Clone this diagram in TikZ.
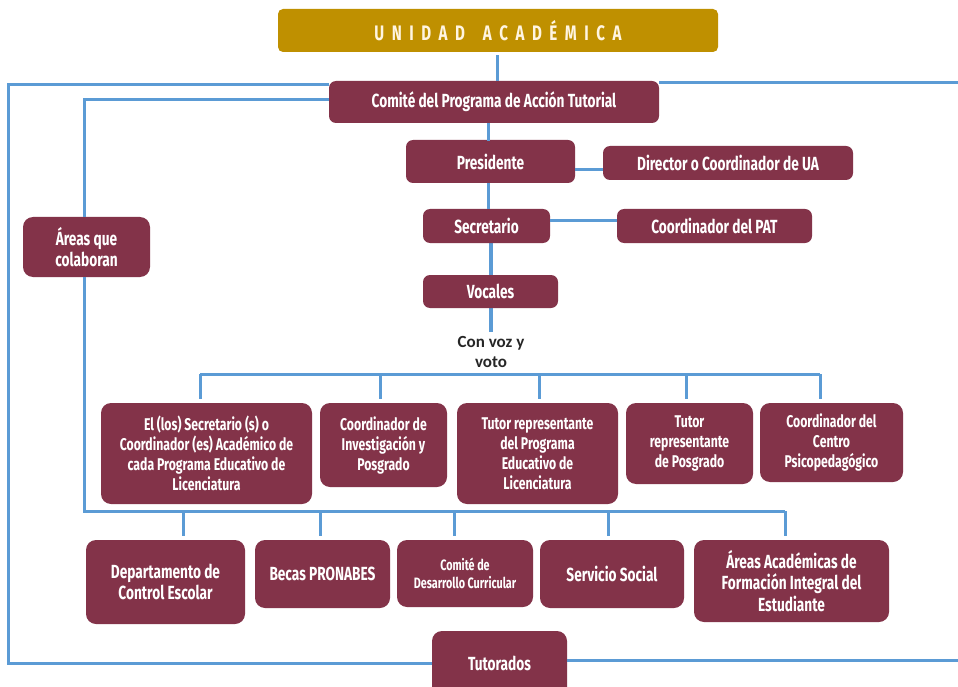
\documentclass[tikz,border=0pt]{standalone}
\usepackage{fontspec}
\setmainfont{Fira Sans}[FakeStretch=0.72]
\newfontfamily\calfont{Carlito}
\usetikzlibrary{calc,backgrounds}
\definecolor{maroon}{HTML}{833349}
\definecolor{lineblue}{HTML}{5B9BD5}
\definecolor{gold}{HTML}{BF9000}
\definecolor{cream}{HTML}{FFF5E1}
\definecolor{darktext}{HTML}{262626}
\begin{document}
\begin{tikzpicture}[x=1pt,y=-1pt,
  box/.style={fill=maroon, rounded corners=7pt, text=white, align=center, inner sep=0pt,
    font=\bfseries\fontsize{19}{21.5}\selectfont},
  midbox/.style={box, rounded corners=10pt, font=\bfseries\fontsize{17}{20}\selectfont},
  link/.style={draw=lineblue, line width=3pt},
  gap/.style={link, shorten >=4pt},
]
\useasboundingbox (0,0) rectangle (958,687);
\begin{scope}
\clip (0,0) rectangle (958,687);
% title
\node[fill=gold, rounded corners=5pt, minimum width=440pt, minimum height=43pt, inner sep=0pt,
  text=cream, font=\bfseries\fontsize{21}{24}\selectfont]
  (title) at (498,30.5) {\addfontfeature{LetterSpace=36}UNIDAD\hspace*{18pt}ACADÉMICA};
% upper chain
\node[box, minimum width=330pt, minimum height=42pt] (comite) at (494,102) {Comité del Programa de Acción Tutorial};
\node[box, minimum width=169pt, minimum height=43pt] (pres) at (490.5,161.5) {Presidente};
\node[box, minimum width=250pt, minimum height=34pt] (dir) at (728,163) {Director o Coordinador de UA};
\node[box, minimum width=127pt, minimum height=34pt] (sec) at (486.5,226) {Secretario};
\node[box, minimum width=195pt, minimum height=34pt] (pat) at (714.5,226) {Coordinador del PAT};
\node[box, minimum width=135pt, minimum height=33pt] (voc) at (490.5,291.5) {Vocales};
\node[box, rounded corners=10pt, minimum width=127pt, minimum height=60pt] (areas) at (86.5,247) {Áreas que\\colaboran};
\node[align=center, inner sep=0pt, text=darktext, font=\calfont\bfseries\fontsize{17}{20.5}\selectfont] (voz) at (491,352) {Con voz y\\voto};
% middle row
\node[midbox, minimum width=211pt, minimum height=101pt] (b1) at (206.5,453.5) {El (los) Secretario (s) o\\Coordinador (es) Académico de\\cada Programa Educativo de\\Licenciatura};
\node[midbox, minimum width=127pt, minimum height=84pt] (b2) at (383.5,445) {Coordinador de\\Investigación y\\Posgrado};
\node[midbox, minimum width=161pt, minimum height=101pt] (b3) at (537.5,453.5) {Tutor representante\\del Programa\\Educativo de\\Licenciatura};
\node[midbox, minimum width=127pt, minimum height=81pt] (b4) at (689.5,443.5) {Tutor\\representante\\de Posgrado};
\node[midbox, minimum width=143pt, minimum height=79pt] (b5) at (831.5,442.5) {Coordinador del\\Centro\\Psicopedagógico};
% bottom row
\node[box, rounded corners=10pt, minimum width=159pt, minimum height=84pt] (c1) at (165.5,582) {Departamento de\\Control Escolar};
\node[box, rounded corners=10pt, minimum width=135pt, minimum height=68pt] (c2) at (322.5,574) {Becas PRONABES};
\node[box, rounded corners=10pt, minimum width=136pt, minimum height=67pt, font=\bfseries\fontsize{15}{18}\selectfont] (c3) at (465,573.5) {Comité de\\Desarrollo Curricular};
\node[box, rounded corners=10pt, minimum width=144pt, minimum height=68pt] (c4) at (612,574) {Servicio Social};
\node[box, rounded corners=10pt, minimum width=195pt, minimum height=82pt] (c5) at (791.5,581) {Áreas Académicas de\\Formación Integral del\\Estudiante};
\node[box, rounded corners=10pt, minimum width=135pt, minimum height=66pt, text depth=0pt] (tut) at (499.5,664) {\raisebox{2pt}{Tutorados}};
% connectors: upper chain
\draw[link] ([yshift=-3pt]title.south -| comite.north) ++(3pt,0) -- ++(0,-26pt);
\draw[link] (comite.south -| pres.north) ++(-2.5pt,0) -- ++(0,-18pt);
\draw[link] (pres.south -| sec.north) ++(1.5pt,0) -- ++(0,-26pt);
\draw[link] ([yshift=-8pt]pres.east) -- ([yshift=-8pt]pres.east -| dir.west);
\draw[link] ([yshift=6pt]sec.east) -- ([yshift=6pt]sec.east -| pat.west);
\begin{pgfonlayer}{background}
\draw[link, line width=3.2pt] (sec.south -| voc.north) ++(0.5pt,0) -- ++(0,-89pt);
\end{pgfonlayer}
% outer frame and right lines
\coordinate (oc1) at (8,85);
\coordinate (oc2) at (8,663);
\draw[link] (comite.west |- oc1) -- (oc1) -- (oc2) -- (oc2 -| tut.west);
\coordinate (r1) at (958,83);
\draw[link] (comite.east |- r1) -- (r1);
\coordinate (r2) at (958,660);
\draw[link] (tut.east |- r2) -- (r2);
% areas que colaboran
\coordinate (ic) at (84,100);
\draw[link] (comite.west |- ic) -- (ic) -- (ic |- areas.north);
% top bus
\coordinate (tb1) at (200,374);
\coordinate (tb5) at (820,374);
\draw[gap] (tb1) -- (tb1 |- b1.north);
\draw[link] (tb1) -- (tb5);
\draw[gap] (tb5) -- (tb5 |- b5.north);
\draw[gap] (tb1 -| b2.north) ++(-3pt,0) -- ++(0,-29pt);
\draw[gap] (tb1 -| b3.north) ++(1.5pt,0) -- ++(0,-29pt);
\draw[gap] (tb1 -| b4.north) ++(-3.5pt,0) -- ++(0,-29pt);
% bottom bus
\coordinate (bb0) at (84,511);
\coordinate (bb1) at (183,511);
\coordinate (bb3) at (454,511);
\coordinate (bbE) at (785,511);
\draw[link] (areas.south -| bb0) -- (bb0) -- (bbE);
\draw[gap] (bbE) -- (bbE |- c5.north);
\draw[gap] (bb1) -- (bb1 |- c1.north);
\draw[gap] (bb3) -- (bb3 |- c3.north);
\draw[gap] (bb0 -| c2.north) ++(-2.5pt,0) -- ++(0,-29pt);
\draw[gap] (bb0 -| c4.north) ++(-4pt,0) -- ++(0,-29pt);
\end{scope}
\end{tikzpicture}
\end{document}
